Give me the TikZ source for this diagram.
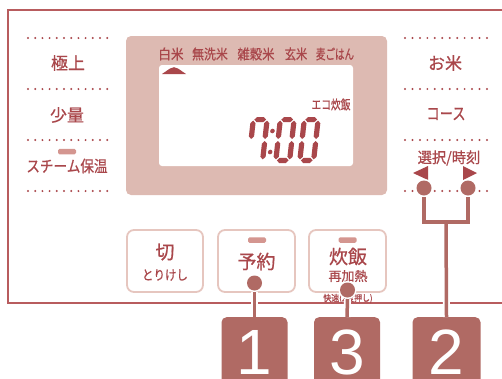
\documentclass[tikz,border=0pt]{standalone}
\usepackage{fontspec}
\usepackage{graphicx}
\newfontfamily\jp[FakeBold=0.7]{Noto Sans CJK JP}
\newfontfamily\numf{Liberation Sans}
\definecolor{framec}{HTML}{B85C5E}
\definecolor{textc}{HTML}{A9474B}
\definecolor{boxc}{HTML}{B06A64}
\definecolor{dispc}{HTML}{DDBAB2}
\definecolor{btnc}{HTML}{E6C6BF}
\definecolor{barc}{HTML}{D49690}
\newcommand\js[3]{\fontsize{#1}{#1}\selectfont\scalebox{#2}[1]{#3}}
\newcommand\hseg[3]{\fill ({#1},{#3}) -- ({#1+2.6},{#3-2.6}) -- ({#2-2.6},{#3-2.6}) -- ({#2},{#3}) -- ({#2-2.6},{#3+2.6}) -- ({#1+2.6},{#3+2.6}) -- cycle;}
\newcommand\vseg[3]{\fill ({#1},{#2}) -- ({#1+2.6},{#2+2.6}) -- ({#1+2.6},{#3-2.6}) -- ({#1},{#3}) -- ({#1-2.6},{#3-2.6}) -- ({#1-2.6},{#2+2.6}) -- cycle;}
\newcommand\dzero{\hseg{3.6}{15.4}{2.6}\vseg{16.4}{3.6}{22}\vseg{16.4}{24}{42.4}\hseg{3.6}{15.4}{43.4}\vseg{2.6}{24}{42.4}\vseg{2.6}{3.6}{22}}
\newcommand\dseven{\hseg{3.6}{15.4}{2.6}\vseg{16.4}{3.6}{22}\vseg{16.4}{24}{42.4}\vseg{2.6}{3.6}{22}}
\begin{document}
\begin{tikzpicture}[x=1pt,y=-1pt,
  lbl/.style={text=textc, inner sep=0pt, font=\jp},
  btn/.style={draw=btnc, line width=1.8pt, fill=white, rounded corners=7pt, inner sep=0pt},
  indbar/.style={fill=barc, rounded corners=1.5pt, inner sep=0pt, minimum width=18pt, minimum height=5.5pt},
  dotc/.style={circle, fill=boxc, draw=white, line width=2pt, minimum size=16pt, inner sep=0pt},
  numbox/.style={fill=boxc, rounded corners=5pt, minimum height=80pt, inner sep=0pt},
  num/.style={text=white, font=\numf\fontsize{64}{64}\selectfont, inner sep=0pt, anchor=base},
  halo/.style={draw=white, line width=7pt},
  conn/.style={draw=boxc, line width=3.5pt}]
\useasboundingbox (0,0) rectangle (502,378);
% frame
\draw[framec, line width=2pt] (502,10) -- (8,10) -- (8,303) -- (502,303);
% dotted rows
\foreach \y in {38,89,140,191}{
  \foreach \i in {0,...,11}{
    \fill[textc] ({28+\i*7.2},\y) circle (1.1pt);
    \fill[textc] ({405+\i*7.45},\y) circle (1.1pt);
  }
}
% left labels
\node[lbl] (gokujo) at (68,63) {\js{17}{1}{極上}};
\node[lbl] (shoryo) at (67,115) {\js{17}{1}{少量}};
\node[indbar] (barL) at (67,151.5) {};
\node[lbl] (steam) at (67,166) {\js{16}{0.85}{スチーム保温}};
% right labels
\node[lbl] (okome) at (445,63) {\js{17}{1}{お米}};
\node[lbl] (course) at (446,114) {\js{17}{0.78}{コース}};
\node[lbl] (sentaku) at (449,158) {\js{15}{0.95}{選択/時刻}};
\fill[textc] (413,173) -- (428,166) -- (428,180) -- cycle;
\fill[textc] (477,173) -- (463,166) -- (463,180) -- cycle;
% display
\fill[dispc, rounded corners=5pt] (126,36) rectangle (387,195);
\fill[white, rounded corners=3pt] (159,65) rectangle (353,166);
\node[lbl] (hakumai) at (171,54) {\js{14}{0.9}{白米}};
\node[lbl] (musenmai) at (210,54) {\js{14}{0.85}{無洗米}};
\node[lbl] (zakkoku) at (256,54) {\js{14}{0.88}{雑穀米}};
\node[lbl] (genmai) at (296,54) {\js{14}{0.8}{玄米}};
\node[lbl] (mugi) at (335,54) {\js{14}{0.68}{麦ごはん}};
\fill[textc] (162,74) -- (170,68.5) .. controls (172.5,66.8) and (175.5,66.8) .. (178,68.5) -- (186,74) -- cycle;
\node[lbl] (eco) at (331,104.5) {\js{13}{0.75}{エコ炊飯}};
\begin{scope}[shift={(251,117)}, xslant=0.11, textc]
  \dseven
  \fill (23,14) circle (2.3pt);
  \fill (23,35) circle (2.3pt);
\end{scope}
\begin{scope}[shift={(278,117)}, xslant=0.11, textc]
  \dzero
\end{scope}
\begin{scope}[shift={(302,117)}, xslant=0.11, textc]
  \dzero
\end{scope}
% buttons
\node[btn, minimum width=76pt, minimum height=62pt] (kiri) at (165,261) {};
\node[btn, minimum width=77pt, minimum height=62pt] (yoyaku) at (256.5,261) {};
\node[btn, minimum width=77pt, minimum height=62pt] (suihan) at (347.5,261) {};
\node[lbl] (kiriT) at (165,252) {\js{19}{1}{切}};
\node[lbl] (torikeshi) at (165,275) {\js{13.5}{0.85}{とりけし}};
\node[indbar] (barY) at (257,240) {};
\node[lbl] (yoyakuT) at (256.5,261.5) {\js{19}{1}{予約}};
\node[indbar] (barS) at (347.5,240) {};
\node[lbl] (suihanT) at (348,256.5) {\js{19}{1}{炊飯}};
\node[lbl] (saikanetsu) at (348,276) {\js{13}{1}{再加熱}};
\node[lbl] (kaisoku) at (348,298.5) {\js{9}{0.88}{快速(2度押し)}};
% number boxes
\node[numbox, minimum width=66pt, anchor=north] (b1) at (254.5,317) {};
\node[numbox, minimum width=66pt, anchor=north] (b3) at (347,317) {};
\node[numbox, minimum width=68pt, anchor=north] (b2) at (446.5,317) {};
\node[num] (n1) at (254.5,374) {1};
\node[num] (n3) at (347,374) {3};
\node[num] (n2) at (446.5,374) {2};
% connectors
\node[dotc] (c1) at (254.5,283) {};
\node[dotc] (c3) at (347.5,290) {};
\node[dotc] (cL) at (424,188) {};
\node[dotc] (cR) at (468,188) {};
\coordinate (j) at (446,222);
\draw[halo] (c1.south) -- (b1.north);
\draw[halo] (c3.south) -- (b3.north);
\draw[halo] (cL.south) |- (j) -| (cR.south);
\draw[halo] (j) -- (b2.north);
\draw[conn] (c1.south) -- (b1.north);
\draw[conn] (c3.south) -- (b3.north);
\draw[conn] (cL.south) |- (j) -| (cR.south);
\draw[conn] (j) -- (b2.north);
\fill[boxc] (c1) circle (7.5pt);
\fill[boxc] (c3) circle (7.5pt);
\fill[boxc] (cL) circle (7.5pt);
\fill[boxc] (cR) circle (7.5pt);
\end{tikzpicture}
\end{document}
